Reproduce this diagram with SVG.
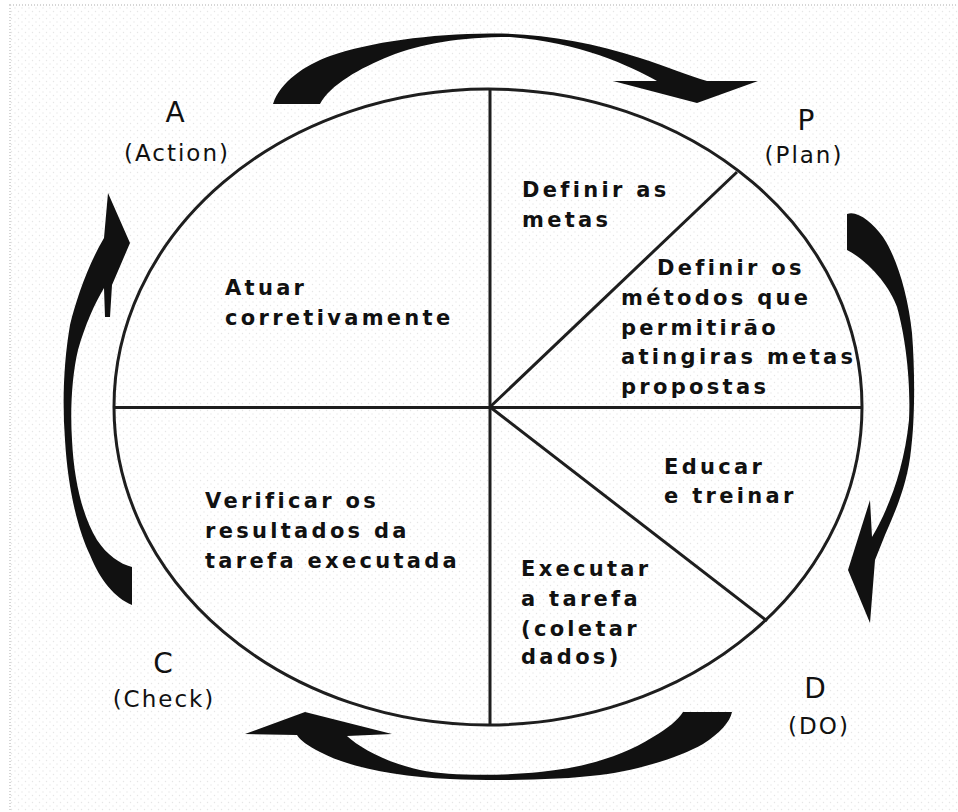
<svg xmlns="http://www.w3.org/2000/svg" width="958" height="812" viewBox="0 0 958 812">
  <defs>
    <pattern id="dots" width="7" height="7" patternUnits="userSpaceOnUse">
      <rect width="7" height="7" fill="#ffffff"/>
      <circle cx="1" cy="1" r="0.7" fill="#e6e6e6"/>
      <circle cx="4.5" cy="4.5" r="0.7" fill="#e6e6e6"/>
    </pattern>
    <style>
      .frame { fill: url(#dots); stroke: #d6d6d6; stroke-width: 2; stroke-dasharray: 1 2; }
      .ring { fill: none; stroke: #1e1e1e; stroke-width: 3; }
      .div { stroke: #1e1e1e; stroke-width: 3; fill: none; }
      .body { font-family: "DejaVu Sans", Verdana, sans-serif; font-weight: bold; font-size: 21px; letter-spacing: 3.3px; fill: #111; }
      .big { font-family: "DejaVu Sans", Verdana, sans-serif; font-size: 28px; fill: #111; text-anchor: middle; }
      .sub { font-family: "DejaVu Sans", Verdana, sans-serif; font-size: 23px; letter-spacing: 2px; fill: #111; text-anchor: middle; }
      .arrow { fill: #111; stroke: none; }
    </style>
  </defs>

  <rect x="0" y="0" width="958" height="812" fill="#ffffff"/>
  <rect class="frame" x="10" y="5" width="960" height="830"/>

  <g id="wheel">
    <ellipse class="ring" cx="488" cy="407" rx="374" ry="318"/>
    <line class="div" x1="114" y1="407.5" x2="862" y2="407.5"/>
    <line class="div" x1="490" y1="89" x2="490" y2="725"/>
    <line class="div" x1="490" y1="407" x2="737" y2="172"/>
    <line class="div" x1="490" y1="407" x2="767" y2="621"/>
  </g>

  <g id="connectors">
    <path class="arrow" d="M 273 104 C 280 82, 305 65, 330 56 C 370 42, 430 34, 490 33.5 C 540 33, 590 42, 640 58 C 665 66, 690 76, 707 81 L 758 81 L 697 103 L 613 81 L 657 81 C 630 66, 580 42, 510 37 C 460 37, 420 44, 390 56 C 360 68, 330 85, 320 104 Z"/>
    <path class="arrow" d="M 847 250 L 847 214 C 857 210, 872 222, 883 237 C 897 258, 908 295, 912 333 C 915 370, 915 420, 911 450 C 908 480, 898 506, 885 535 L 875 560 L 870 623 L 848 570 L 870 500 L 872 537 C 888 510, 904 470, 909 420 C 911 380, 905 335, 897 307 C 890 287, 870 262, 847 250 Z"/>
    <path class="arrow" d="M 245 734 L 305 712 L 392 734 L 347 736 C 360 748, 385 762, 420 770 C 450 776, 500 776, 540 772 C 580 768, 620 758, 653 737 C 668 728, 678 720, 683 712 L 732 712 C 730 722, 720 733, 703 744 C 680 757, 640 770, 600 775 C 560 780, 500 781, 450 779 C 400 777, 350 768, 320 752 C 308 746, 300 740, 297 735 Z"/>
    <path class="arrow" d="M 108 193 L 130 243 L 112 285 L 110 317 L 105 317 L 104 288 C 95 303, 85 325, 78 350 C 72 375, 70 410, 72 440 C 74 480, 82 515, 97 540 C 107 555, 120 564, 132 567 L 132 605 C 115 598, 100 580, 90 555 C 78 530, 68 490, 65 440 C 62 400, 64 360, 70 325 C 76 300, 88 265, 104 238 Z"/>
  </g>

  <g id="node-A">
    <text class="big" x="175" y="122">A</text>
    <text class="sub" x="177" y="161">(Action)</text>
  </g>
  <g id="node-P">
    <text class="big" x="806" y="130">P</text>
    <text class="sub" x="804" y="163">(Plan)</text>
  </g>
  <g id="node-C">
    <text class="big" x="163" y="673">C</text>
    <text class="sub" x="164" y="707">(Check)</text>
  </g>
  <g id="node-D">
    <text class="big" x="815" y="698">D</text>
    <text class="sub" x="819" y="734">(DO)</text>
  </g>

  <g id="sector-act">
    <text class="body" x="225" y="295">Atuar</text>
    <text class="body" x="225" y="325">corretivamente</text>
  </g>
  <g id="sector-goals">
    <text class="body" x="522" y="197">Definir as</text>
    <text class="body" x="522" y="227">metas</text>
  </g>
  <g id="sector-methods">
    <text class="body" x="657" y="275">Definir os</text>
    <text class="body" x="621" y="305">métodos que</text>
    <text class="body" x="621" y="335">permitirão</text>
    <text class="body" x="621" y="364">atingiras metas</text>
    <text class="body" x="621" y="394">propostas</text>
  </g>
  <g id="sector-train">
    <text class="body" x="664" y="474">Educar</text>
    <text class="body" x="664" y="503">e treinar</text>
  </g>
  <g id="sector-execute">
    <text class="body" x="521" y="576">Executar</text>
    <text class="body" x="521" y="606">a tarefa</text>
    <text class="body" x="521" y="636">(coletar</text>
    <text class="body" x="521" y="664">dados)</text>
  </g>
  <g id="sector-check">
    <text class="body" x="205" y="508">Verificar os</text>
    <text class="body" x="205" y="538">resultados da</text>
    <text class="body" x="205" y="568">tarefa executada</text>
  </g>
</svg>
